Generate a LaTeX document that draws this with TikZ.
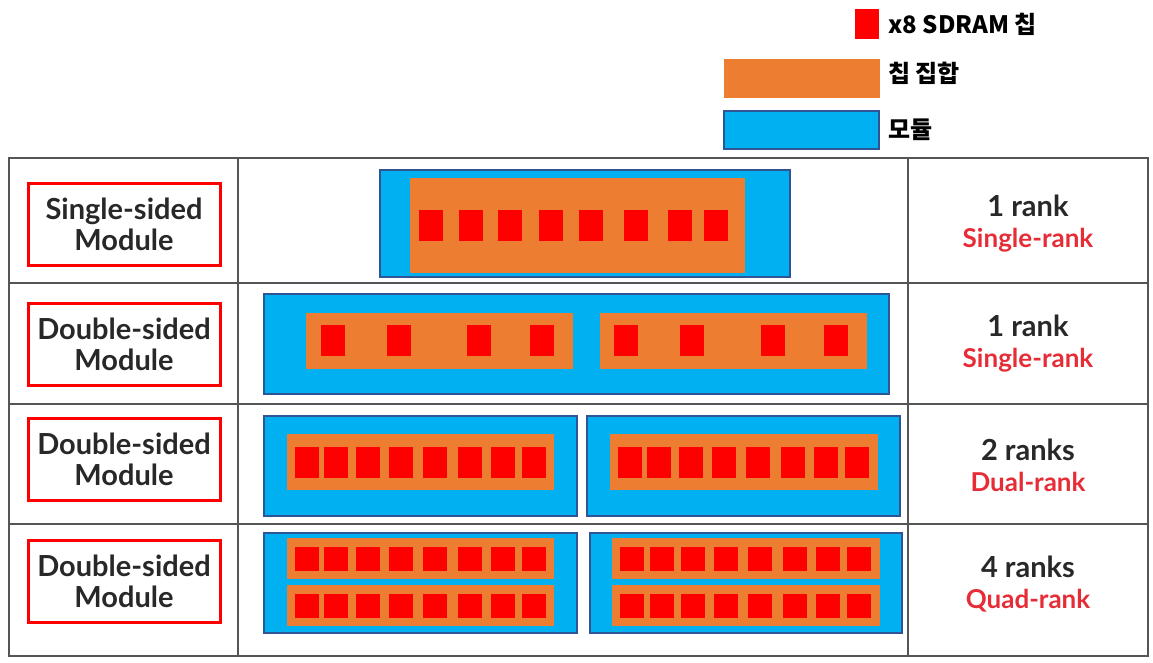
\documentclass[tikz,border=0pt]{standalone}
\usepackage{fontspec}
\setmainfont{Lato}
\newfontfamily\kofont{Noto Sans CJK KR}
\usetikzlibrary{positioning}
\definecolor{chipred}{RGB}{255,0,0}
\definecolor{setorange}{RGB}{237,125,49}
\definecolor{modblue}{RGB}{0,176,240}
\definecolor{modedge}{RGB}{47,85,151}
\definecolor{gridgray}{RGB}{85,85,85}
\definecolor{txtgray}{RGB}{40,40,40}
\definecolor{ranktxt}{RGB}{230,45,55}

\begin{document}
\begin{tikzpicture}[x=1pt,y=-1pt,
  chip/.style={fill=chipred},
  chipset/.style={fill=setorange},
  module/.style={fill=modblue,draw=modedge,line width=1.2pt},
  gridline/.style={draw=gridgray,line width=1.6pt},
  sidebox/.style={draw=red,line width=3pt,minimum width=192pt,minimum height=82pt,
    inner sep=0pt,align=center,text=txtgray,font=\fontsize{29}{31}\selectfont\bfseries},
  ranklabel/.style={align=center,text=txtgray,inner sep=0pt,font=\fontsize{29}{31}\selectfont\bfseries},
  legendtxt/.style={anchor=west,inner sep=0pt,font=\kofont\fontsize{24}{28}\selectfont\bfseries}
]
\useasboundingbox (0,0) rectangle (1153,662);

%---------------------------------------
% Legend
%---------------------------------------
\fill[chip] (855,9) rectangle (879,39);
\fill[chipset] (724,59) rectangle (880,98);
\draw[module] (724,111) rectangle (879,149);
\node[legendtxt] (legchip) at (888,24) {x8 SDRAM 칩};
\node[legendtxt] (legset) at (888,73) {칩 집합};
\node[legendtxt] (legmod) at (888,130) {모듈};

%---------------------------------------
% Table grid
%---------------------------------------
\draw[gridline] (9,158) rectangle (1148,656);
\draw[gridline] (238,158) -- (238,656);
\draw[gridline] (908,158) -- (908,656);
\foreach \ry in {283,404,524}
  \draw[gridline] (9,\ry) -- (1148,\ry);

%---------------------------------------
% Left column: module type
%---------------------------------------
\node[sidebox] (side1) at (124,224) {Single-sided\\Module};
\node[sidebox] (side2) at (124,344) {Double-sided\\Module};
\node[sidebox] (side3) at (124,459) {Double-sided\\Module};
\node[sidebox] (side4) at (124,581) {Double-sided\\Module};

%---------------------------------------
% Right column: ranks
%---------------------------------------
\node[ranklabel] (rank1) at (1028,224) {1 rank\\{\color{ranktxt}\fontsize{26}{31}\selectfont Single-rank}};
\node[ranklabel] (rank2) at (1028,344) {1 rank\\{\color{ranktxt}\fontsize{26}{31}\selectfont Single-rank}};
\node[ranklabel] (rank3) at (1028,465) {2 ranks\\{\color{ranktxt}\fontsize{26}{31}\selectfont Dual-rank}};
\node[ranklabel] (rank4) at (1028,584) {4 ranks\\{\color{ranktxt}\fontsize{26}{31}\selectfont Quad-rank}};

%====================================================
% Row 1: single-sided, one rank
%====================================================
\draw[module] (380,170) rectangle (790,277);
\fill[chipset] (410,178) rectangle (745,273);
\foreach \cx in {419,459,498,539,579,624,668,704}
  \fill[chip] (\cx,210) rectangle ++(24,31);

%====================================================
% Row 2: double-sided, one rank
%====================================================
\draw[module] (264,294) rectangle (889,394);
\fill[chipset] (306,313) rectangle (573,369);
\fill[chipset] (600,313) rectangle (867,369);
\foreach \cx in {321,387,467,530,614,680,761,824}
  \fill[chip] (\cx,325) rectangle ++(24,31);

%====================================================
% Row 3: double-sided, two ranks
%====================================================
\draw[module] (264,416) rectangle (577,516);
\draw[module] (587,416) rectangle (900,516);
\fill[chipset] (287,434) rectangle (554,490);
\fill[chipset] (610,434) rectangle (878,490);
\foreach \cx in {295,324,356,389,423,458,491,522,618,647,679,712,746,781,814,845}
  \fill[chip] (\cx,447) rectangle ++(24,31);

%====================================================
% Row 4: double-sided, four ranks
%====================================================
\draw[module] (264,533) rectangle (577,633);
\draw[module] (590,533) rectangle (902,633);
\foreach \sy in {538,585}{
  \fill[chipset] (287,\sy) rectangle ++(267,41);
  \fill[chipset] (612,\sy) rectangle ++(268,41);
}
\foreach \cy in {547,594}
  \foreach \cx in {295,324,356,389,423,458,491,522,620,650,681,714,748,783,816,847}
    \fill[chip] (\cx,\cy) rectangle ++(24,24);

\end{tikzpicture}
\end{document}
